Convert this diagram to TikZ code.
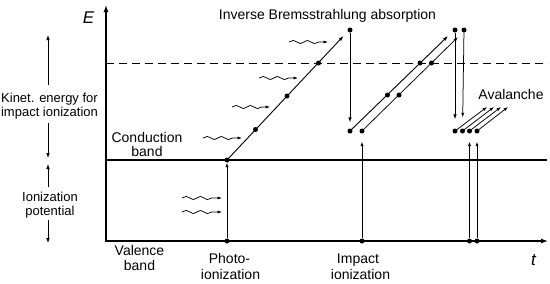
\documentclass[tikz,border=0pt]{standalone}
\usepackage{fontspec}
\setmainfont{Liberation Sans}
\usetikzlibrary{arrows.meta,decorations.pathmorphing}
\begin{document}
\begin{tikzpicture}[x=1pt,y=-1pt,
  dot/.style={circle,fill=black,inner sep=0pt,minimum size=5pt},
  lbl/.style={anchor=base,inner sep=0pt,font=\fontsize{14}{16}\selectfont},
  sidelbl/.style={anchor=base,inner sep=0pt,font=\fontsize{13}{15}\selectfont},
  axlbl/.style={anchor=base,inner sep=0pt,font=\fontsize{17}{20}\selectfont\itshape},
  axisline/.style={line width=1.3pt,{Latex[length=7pt,width=5pt]}-{Latex[length=7pt,width=5pt]}},
  bandline/.style={line width=1.1pt},
  dashline/.style={line width=1pt,dash pattern=on 8pt off 5pt},
  arr/.style={-{Latex[length=5pt,width=3.6pt]},line width=0.9pt},
  thinarr/.style={-{Latex[length=4.5pt,width=3.2pt]},line width=0.75pt},
  sidearr/.style={-{Latex[length=5pt,width=3.6pt]},line width=0.8pt},
  photon/.style={-{Latex[length=4.5pt,width=3.2pt]},line width=0.75pt,decorate,
    decoration={snake,amplitude=1.6pt,segment length=14pt,post length=5pt}}]
\useasboundingbox (0,0) rectangle (550,284);

% axes and levels
\coordinate (Etop) at (106,5);
\coordinate (O) at (106,241);
\coordinate (tend) at (548,241);
\coordinate (cbL) at (106,160);
\coordinate (cbR) at (547,160);
\coordinate (dL) at (106,63);
\coordinate (dR) at (548,63);
\draw[bandline] (cbL) -- (cbR);
\draw[dashline] (dL) -- (dR);
\draw[axisline] (Etop) -- (O) -- (tend);

\node[axlbl] (Elbl) at (88.5,23) {E};
\node[axlbl] (tlbl) at (533.5,265) {t};

% dots
\node[dot] (p0) at (227,241) {};
\node[dot] (p1) at (227,160) {};
\node[dot] (d1) at (255.5,129.5) {};
\node[dot] (d2) at (287,96) {};
\node[dot] (d3) at (318.5,63) {};
\node[dot] (top1) at (350,30) {};
\node[dot] (b1) at (350,131) {};
\node[dot] (b2) at (362,131) {};
\node[dot] (i0) at (362,241) {};
\node[dot] (e1) at (387.5,95) {};
\node[dot] (e2) at (420,63) {};
\node[dot] (f1) at (399,95) {};
\node[dot] (f2) at (431.5,63) {};
\node[dot] (top2) at (455,30) {};
\node[dot] (top3) at (464,30) {};
\node[dot] (c1) at (455,131) {};
\node[dot] (c2) at (462.5,131) {};
\node[dot] (c3) at (469.5,131) {};
\node[dot] (c4) at (477,131) {};
\node[dot] (q1) at (469.5,241) {};
\node[dot] (q2) at (477,241) {};

% free ends of arrows
\coordinate (t1) at (343.5,36);
\coordinate (t2) at (448,36);
\coordinate (t3) at (458,37);
\coordinate (a1) at (487,107);
\coordinate (a2) at (494,107);
\coordinate (a3) at (501,107);
\coordinate (a4) at (508,107);

% transitions
\draw[thinarr] (p0) -- (p1);
\draw[arr] (p1.center) -- (t1);
\draw[arr,shorten >=6pt] (top1) -- (b1);
\draw[arr] (b1.center) -- (t2);
\draw[thinarr] (b2.center) -- (t3);
\draw[thinarr,shorten >=8pt] (i0) -- (b2);
\draw[arr,shorten >=9pt] (top2) -- (c1);
\draw[thinarr,shorten >=11pt] (top3) -- (c2);
\draw[thinarr,shorten >=8pt] (q1) -- (c3);
\draw[thinarr,shorten >=8pt] (q2) -- (c4);
\draw[thinarr] (c1.center) -- (a1);
\draw[thinarr] (c2.center) -- (a2);
\draw[thinarr] (c3.center) -- (a3);
\draw[thinarr] (c4.center) -- (a4);

% photons
\coordinate (w1s) at (203,138); \coordinate (w1e) at (242,138);
\coordinate (w2s) at (232,107); \coordinate (w2e) at (270,107);
\coordinate (w3s) at (259,78);  \coordinate (w3e) at (298,78);
\coordinate (w4s) at (289,42);  \coordinate (w4e) at (328,42);
\coordinate (w5s) at (182,198); \coordinate (w5e) at (222,198);
\coordinate (w6s) at (182,212); \coordinate (w6e) at (222,212);
\draw[photon] (w1s) -- (w1e);
\draw[photon] (w2s) -- (w2e);
\draw[photon] (w3s) -- (w3e);
\draw[photon] (w4s) -- (w4e);
\draw[photon] (w5s) -- (w5e);
\draw[photon] (w6s) -- (w6e);

% side arrows
\coordinate (k1) at (48,85);  \coordinate (k1e) at (48,35);
\coordinate (k2) at (48,123); \coordinate (k2e) at (48,158);
\coordinate (k3) at (48,187); \coordinate (k3e) at (48,164);
\coordinate (k4) at (48,220); \coordinate (k4e) at (48,243);
\draw[sidearr] (k1) -- (k1e);
\draw[sidearr] (k2) -- (k2e);
\draw[sidearr] (k3) -- (k3e);
\draw[sidearr] (k4) -- (k4e);

% labels
\node[lbl] (ibs) at (327.5,19.5) {Inverse Bremsstrahlung absorption};
\node[sidelbl] (kin1) at (49.5,102) {Kinet. energy for};
\node[sidelbl] (kin2) at (49.5,116) {impact ionization};
\node[lbl] (cb1) at (147,142) {Conduction};
\node[lbl] (cb2) at (147,156) {band};
\node[sidelbl] (ip1) at (50,201) {Ionization};
\node[sidelbl] (ip2) at (50,215) {potential};
\node[lbl] (vb1) at (139.5,255) {Valence};
\node[lbl] (vb2) at (139.5,270) {band};
\node[lbl] (ph1) at (229.5,263) {Photo-};
\node[lbl] (ph2) at (230.5,279) {ionization};
\node[lbl] (im1) at (358,263) {Impact};
\node[lbl] (im2) at (360.5,279) {ionization};
\node[lbl] (aval) at (511,99) {Avalanche};
\end{tikzpicture}
\end{document}
